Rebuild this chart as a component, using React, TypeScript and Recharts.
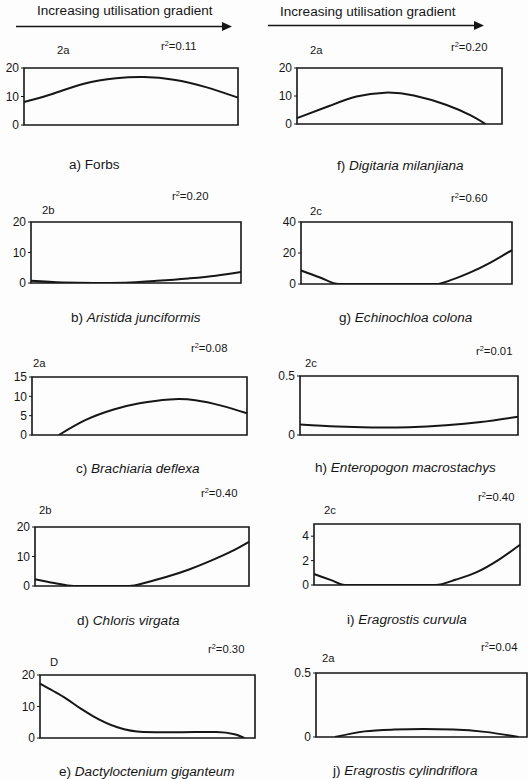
import React from "react";
import { LineChart, Line, XAxis, YAxis, ReferenceArea } from "recharts";

const FONT = "'Liberation Sans', Arial, Helvetica, sans-serif";
const INK = "#161616";
const SX = 1.13; // horizontal stretch of the scanned lettering

// ---- data (x = relative position along utilisation gradient, y = cover) ----
const forbsX = [0, 0.12, 0.28, 0.43, 0.56, 0.7, 0.85, 1];
const forbsY = [8.1, 10.6, 14.5, 16.4, 16.8, 15.9, 13.3, 9.6];

const digitariaX = [0, 0.16, 0.29, 0.43, 0.57, 0.73, 0.85, 0.92];
const digitariaY = [2.1, 6.5, 9.8, 11.2, 10.2, 6.8, 3, 0];

const aristidaX = [0, 0.15, 0.3, 0.45, 0.6, 0.75, 0.88, 1];
const aristidaY = [0.7, 0.15, 0, 0.1, 0.7, 1.5, 2.4, 3.6];

const echinochloaX = [0, 0.09, 0.18, 0.64, 0.72, 0.8, 0.9, 1];
const echinochloaY = [8.7, 4.2, 0, 0, 3, 7.3, 14, 21.9];

const brachiariaX = [0.125, 0.25, 0.38, 0.5, 0.64, 0.76, 0.88, 1];
const brachiariaY = [0, 3.9, 6.6, 8.2, 9.2, 9, 7.6, 5.6];

const enteropogonX = [0, 0.17, 0.33, 0.5, 0.67, 0.83, 1];
const enteropogonY = [0.09, 0.072, 0.064, 0.066, 0.082, 0.11, 0.155];

const chlorisX = [0, 0.09, 0.18, 0.44, 0.52, 0.62, 0.72, 0.82, 0.92, 1];
const chlorisY = [2.3, 1, 0, 0, 1.2, 3.2, 5.6, 8.5, 11.8, 15];

const curvulaX = [0, 0.08, 0.15, 0.59, 0.69, 0.79, 0.9, 1];
const curvulaY = [0.9, 0.42, 0, 0, 0.45, 1.05, 2.1, 3.3];

const dactyloX = [0, 0.06, 0.12, 0.19, 0.25, 0.36, 0.48, 0.6, 0.72, 0.82, 0.91, 0.95];
const dactyloY = [17.3, 15, 12.6, 9.3, 6.8, 3.4, 1.9, 1.8, 1.9, 1.9, 1.1, 0];

const cylindriX = [0.09, 0.23, 0.37, 0.51, 0.65, 0.8, 0.96];
const cylindriY = [0, 0.044, 0.058, 0.062, 0.058, 0.04, 0];

const yMaxes = { a: 20, f: 20, b: 20, g: 40, c: 15, h: 0.5, d: 20, i: 5, e: 20, j: 0.5 };
const yTickSets = {
  a: [0, 10, 20], f: [0, 10, 20], b: [0, 10, 20], g: [0, 20, 40], c: [0, 5, 10, 15],
  h: [0, 0.5], d: [0, 10, 20], i: [0, 2, 4], e: [0, 10, 20], j: [0, 0.5],
};
const r2Values = { a: "0.11", f: "0.20", b: "0.20", g: "0.60", c: "0.08", h: "0.01", d: "0.40", i: "0.40", e: "0.30", j: "0.04" };
const groupTags = { a: "2a", f: "2a", b: "2b", g: "2c", c: "2a", h: "2c", d: "2b", i: "2c", e: "D", j: "2a" };
const captionPrefix = { a: "a) ", f: "f) ", b: "b) ", g: "g) ", c: "c) ", h: "h) ", d: "d) ", i: "i) ", e: "e) ", j: "j) " };
const captionNames = {
  a: "Forbs", f: "Digitaria milanjiana", b: "Aristida junciformis", g: "Echinochloa colona",
  c: "Brachiaria deflexa", h: "Enteropogon macrostachys", d: "Chloris virgata",
  i: "Eragrostis curvula", e: "Dactyloctenium giganteum", j: "Eragrostis cylindriflora",
};
const captionItalic = { a: false, f: true, b: true, g: true, c: true, h: true, d: true, i: true, e: true, j: true };
const gradientTitle = "Increasing utilisation gradient";

const seriesX = { a: forbsX, f: digitariaX, b: aristidaX, g: echinochloaX, c: brachiariaX, h: enteropogonX, d: chlorisX, i: curvulaX, e: dactyloX, j: cylindriX };
const seriesY = { a: forbsY, f: digitariaY, b: aristidaY, g: echinochloaY, c: brachiariaY, h: enteropogonY, d: chlorisY, i: curvulaY, e: dactyloY, j: cylindriY };
const curveType = { a: "natural", f: "natural", b: "monotone", g: "monotone", c: "natural", h: "natural", d: "monotone", i: "monotone", e: "monotone", j: "monotone" };

// ---- layout ----
// plot box [x0, y0, x1, y1]
const boxes = {
  a: [24, 68, 238, 125], f: [297, 68, 502, 124],
  b: [31, 222, 241, 283], g: [301, 222, 512, 284],
  c: [32, 377, 247, 435], h: [300, 376, 518, 435],
  d: [35, 527, 249, 586], i: [314, 524, 520, 585],
  e: [40, 675, 255, 738], j: [316, 673, 527, 737],
};
// tag label [x, baselineY]
const tagPos = {
  a: [57, 54], f: [310, 54], b: [42, 214], g: [310, 215], c: [33, 367],
  h: [305, 367], d: [39, 514], i: [324, 514], e: [50, 666], j: [322, 662],
};
// r2 label [x, baselineY]
const r2Pos = {
  a: [161, 50], f: [451, 51], b: [172, 200], g: [451, 202], c: [191, 352],
  h: [476, 355], d: [201, 497], i: [478, 501], e: [208, 653], j: [481, 651],
};
// caption [x, baselineY]
const capPos = {
  a: [69, 169], f: [337, 170], b: [71, 322], g: [339, 322],
  c: [76, 473], h: [315, 472], d: [77, 625], i: [347, 624],
  e: [59, 776], j: [333, 775],
};

const order = ["a", "f", "b", "g", "c", "h", "d", "i", "e", "j"];

function SText({ x, y, size, children }: { x: number; y: number; size: number; children: any }) {
  return (
    <text transform={`translate(${x} ${y}) scale(${SX} 1)`} fontSize={size} fill={INK} fontFamily={FONT}>
      {children}
    </text>
  );
}

function PanelChart({ k }: { k: string }) {
  const [x0, y0, x1, y1] = boxes[k];
  const ML = 30, MR = 6, MT = 6, MB = 6;
  const xs = seriesX[k];
  const ys = seriesY[k];
  const rows = xs.map((x: number, i: number) => ({ x, y: ys[i] }));
  const yMax = yMaxes[k];
  return (
    <div style={{ position: "absolute", left: x0 - ML, top: y0 - MT }}>
      <LineChart
        width={x1 - x0 + ML + MR}
        height={y1 - y0 + MT + MB}
        data={rows}
        margin={{ top: MT, right: MR, bottom: MB, left: 0 }}
      >
        <XAxis type="number" dataKey="x" domain={[0, 1]} hide />
        <YAxis
          type="number"
          domain={[0, yMax]}
          ticks={yTickSets[k]}
          interval={0}
          width={ML}
          axisLine={false}
          tickLine={{ stroke: INK, strokeWidth: 1 }}
          tickSize={3}
          tickMargin={2}
          tick={{ fontSize: 12, fill: INK, fontFamily: FONT }}
          allowDataOverflow
        />
        <ReferenceArea
          x1={0}
          x2={1}
          y1={0}
          y2={yMax}
          fill="none"
          fillOpacity={0}
          stroke={INK}
          strokeWidth={1.6}
          ifOverflow="visible"
        />
        <Line
          type={curveType[k]}
          dataKey="y"
          stroke={INK}
          strokeWidth={2}
          dot={false}
          activeDot={false}
          isAnimationActive={false}
        />
      </LineChart>
    </div>
  );
}

export default function App() {
  return (
    <div style={{ position: "absolute", left: 0, top: 0, width: 528, height: 779, background: "#fdfdfd", fontFamily: FONT }}>
      <svg width={528} height={779} style={{ position: "absolute", left: 0, top: 0 }}>
        {/* gradient titles and arrows */}
        <SText x={37} y={15} size={12}>{gradientTitle}</SText>
        <line x1={16} y1={26.5} x2={224} y2={26.5} stroke={INK} strokeWidth={1.4} />
        <polygon points="222,22 232,26.5 222,31" fill={INK} />
        <SText x={280} y={16} size={12}>{gradientTitle}</SText>
        <line x1={268} y1={25.5} x2={476} y2={25.5} stroke={INK} strokeWidth={1.4} />
        <polygon points="474,21 484,25.5 474,30" fill={INK} />

        {order.map((k) => (
          <g key={k}>
            <SText x={tagPos[k][0]} y={tagPos[k][1]} size={10}>{groupTags[k]}</SText>
            <SText x={r2Pos[k][0]} y={r2Pos[k][1]} size={10}>
              r<tspan fontSize={6.5} dy={-4}>2</tspan><tspan dy={4}>={r2Values[k]}</tspan>
            </SText>
            <SText x={capPos[k][0]} y={capPos[k][1]} size={12}>
              {captionPrefix[k]}
              <tspan fontStyle={captionItalic[k] ? "italic" : "normal"}>{captionNames[k]}</tspan>
            </SText>
          </g>
        ))}
      </svg>
      {order.map((k) => (
        <PanelChart key={k} k={k} />
      ))}
    </div>
  );
}
